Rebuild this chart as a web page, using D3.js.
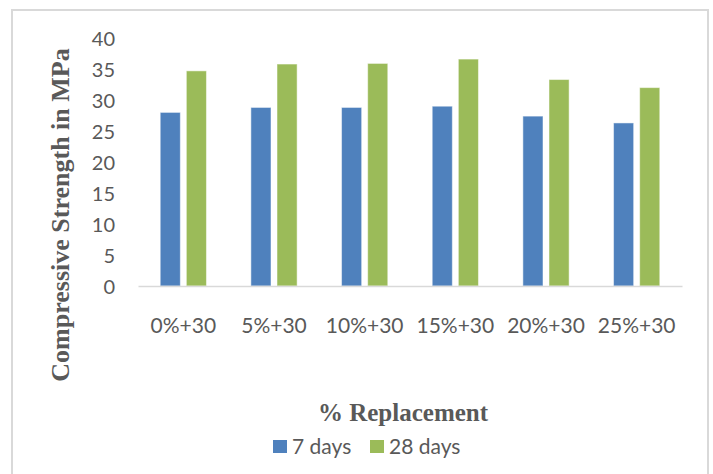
<!DOCTYPE html>
<html>
<head>
<meta charset="utf-8">
<script src="https://cdn.jsdelivr.net/npm/d3@7"></script>
<style>
  html, body { margin: 0; padding: 0; background: #fff; }
  svg { display: block; }
</style>
</head>
<body>
<svg id="chart" width="713" height="474"></svg>
<script>
// Compressive strength (MPa) by replacement level
const categories = ["0%+30", "5%+30", "10%+30", "15%+30", "20%+30", "25%+30"];
const seriesNames = ["7 days", "28 days"];
const days7 = [28.0, 28.8, 28.8, 29.0, 27.4, 26.3];
const days28 = [34.7, 35.8, 35.9, 36.6, 33.3, 32.0];
const yTicks = [0, 5, 10, 15, 20, 25, 30, 35, 40];
const seriesColors = ["#4f81bd", "#9bbb59"];

const svg = d3.select("#chart");
const textColor = "#595959";
const sansFont = "Lato, 'Open Sans', sans-serif";
const serifFont = "'Liberation Serif', 'Times New Roman', serif";

// Outer frame
svg.append("rect")
  .attr("x", 12).attr("y", 10)
  .attr("width", 696).attr("height", 480)
  .attr("fill", "#fff")
  .attr("stroke", "#d9d9d9")
  .attr("stroke-width", 2);

const plot = { left: 138, right: 682, top: 38, bottom: 286 };

const x = d3.scaleBand()
  .domain(categories)
  .range([plot.left, plot.right])
  .paddingInner(0).paddingOuter(0);

const bw = x.bandwidth();
const xSub = d3.scaleBand()
  .domain(seriesNames)
  .range([bw * 0.245, bw * 0.755])
  .paddingInner(0.23).paddingOuter(0);

const y = d3.scaleLinear()
  .domain([0, 40])
  .range([plot.bottom, plot.top]);

const rows = categories.map((c, i) => ({
  category: c,
  values: [
    { series: seriesNames[0], value: days7[i] },
    { series: seriesNames[1], value: days28[i] }
  ]
}));

// Bars
const color = d3.scaleOrdinal().domain(seriesNames).range(seriesColors);
svg.append("g")
  .selectAll("g")
  .data(rows)
  .join("g")
    .attr("transform", d => `translate(${x(d.category)},0)`)
  .selectAll("rect")
  .data(d => d.values)
  .join("rect")
    .attr("x", d => xSub(d.series))
    .attr("y", d => y(d.value))
    .attr("width", xSub.bandwidth())
    .attr("height", d => y(0) - y(d.value))
    .attr("fill", d => color(d.series))
    .attr("stroke", "#ffffff")
    .attr("stroke-opacity", 0.5)
    .attr("stroke-width", 1);

// Category axis
const xAxis = svg.append("g")
  .attr("transform", `translate(0,${plot.bottom})`)
  .call(d3.axisBottom(x).tickSize(0).tickPadding(0));
xAxis.select(".domain").attr("stroke", "#d9d9d9").attr("stroke-width", 1.5);
xAxis.selectAll(".tick text")
  .attr("y", 47)
  .attr("dy", 0)
  .attr("fill", textColor)
  .style("font-family", sansFont)
  .style("font-size", "21px");

// Value axis (labels only)
const yAxis = svg.append("g")
  .attr("transform", `translate(115,0)`)
  .call(d3.axisLeft(y).tickValues(yTicks).tickSize(0).tickPadding(0));
yAxis.select(".domain").remove();
yAxis.selectAll(".tick text")
  .attr("dy", "0.36em")
  .attr("fill", textColor)
  .style("font-family", sansFont)
  .style("font-size", "20px");

// Axis titles
svg.append("text")
  .attr("x", 403).attr("y", 421)
  .attr("text-anchor", "middle")
  .attr("fill", textColor)
  .style("font-family", serifFont)
  .style("font-weight", "bold")
  .style("font-size", "25px")
  .text("% Replacement");

svg.append("text")
  .attr("transform", "translate(69,215) rotate(-90)")
  .attr("text-anchor", "middle")
  .attr("fill", textColor)
  .style("font-family", serifFont)
  .style("font-weight", "bold")
  .style("font-size", "26px")
  .text("Compressive Strength in MPa");

// Legend
const legendItems = [
  { name: seriesNames[0], x: 273 },
  { name: seriesNames[1], x: 370 }
];
const legend = svg.append("g");
const li = legend.selectAll("g").data(legendItems).join("g")
  .attr("transform", d => `translate(${d.x},440)`);
li.append("rect")
  .attr("width", 14).attr("height", 13)
  .attr("fill", d => color(d.name));
li.append("text")
  .attr("x", 19).attr("y", 6.5)
  .attr("dy", "0.36em")
  .attr("fill", textColor)
  .style("font-family", sansFont)
  .style("font-size", "21px")
  .text(d => d.name);
</script>
</body>
</html>
